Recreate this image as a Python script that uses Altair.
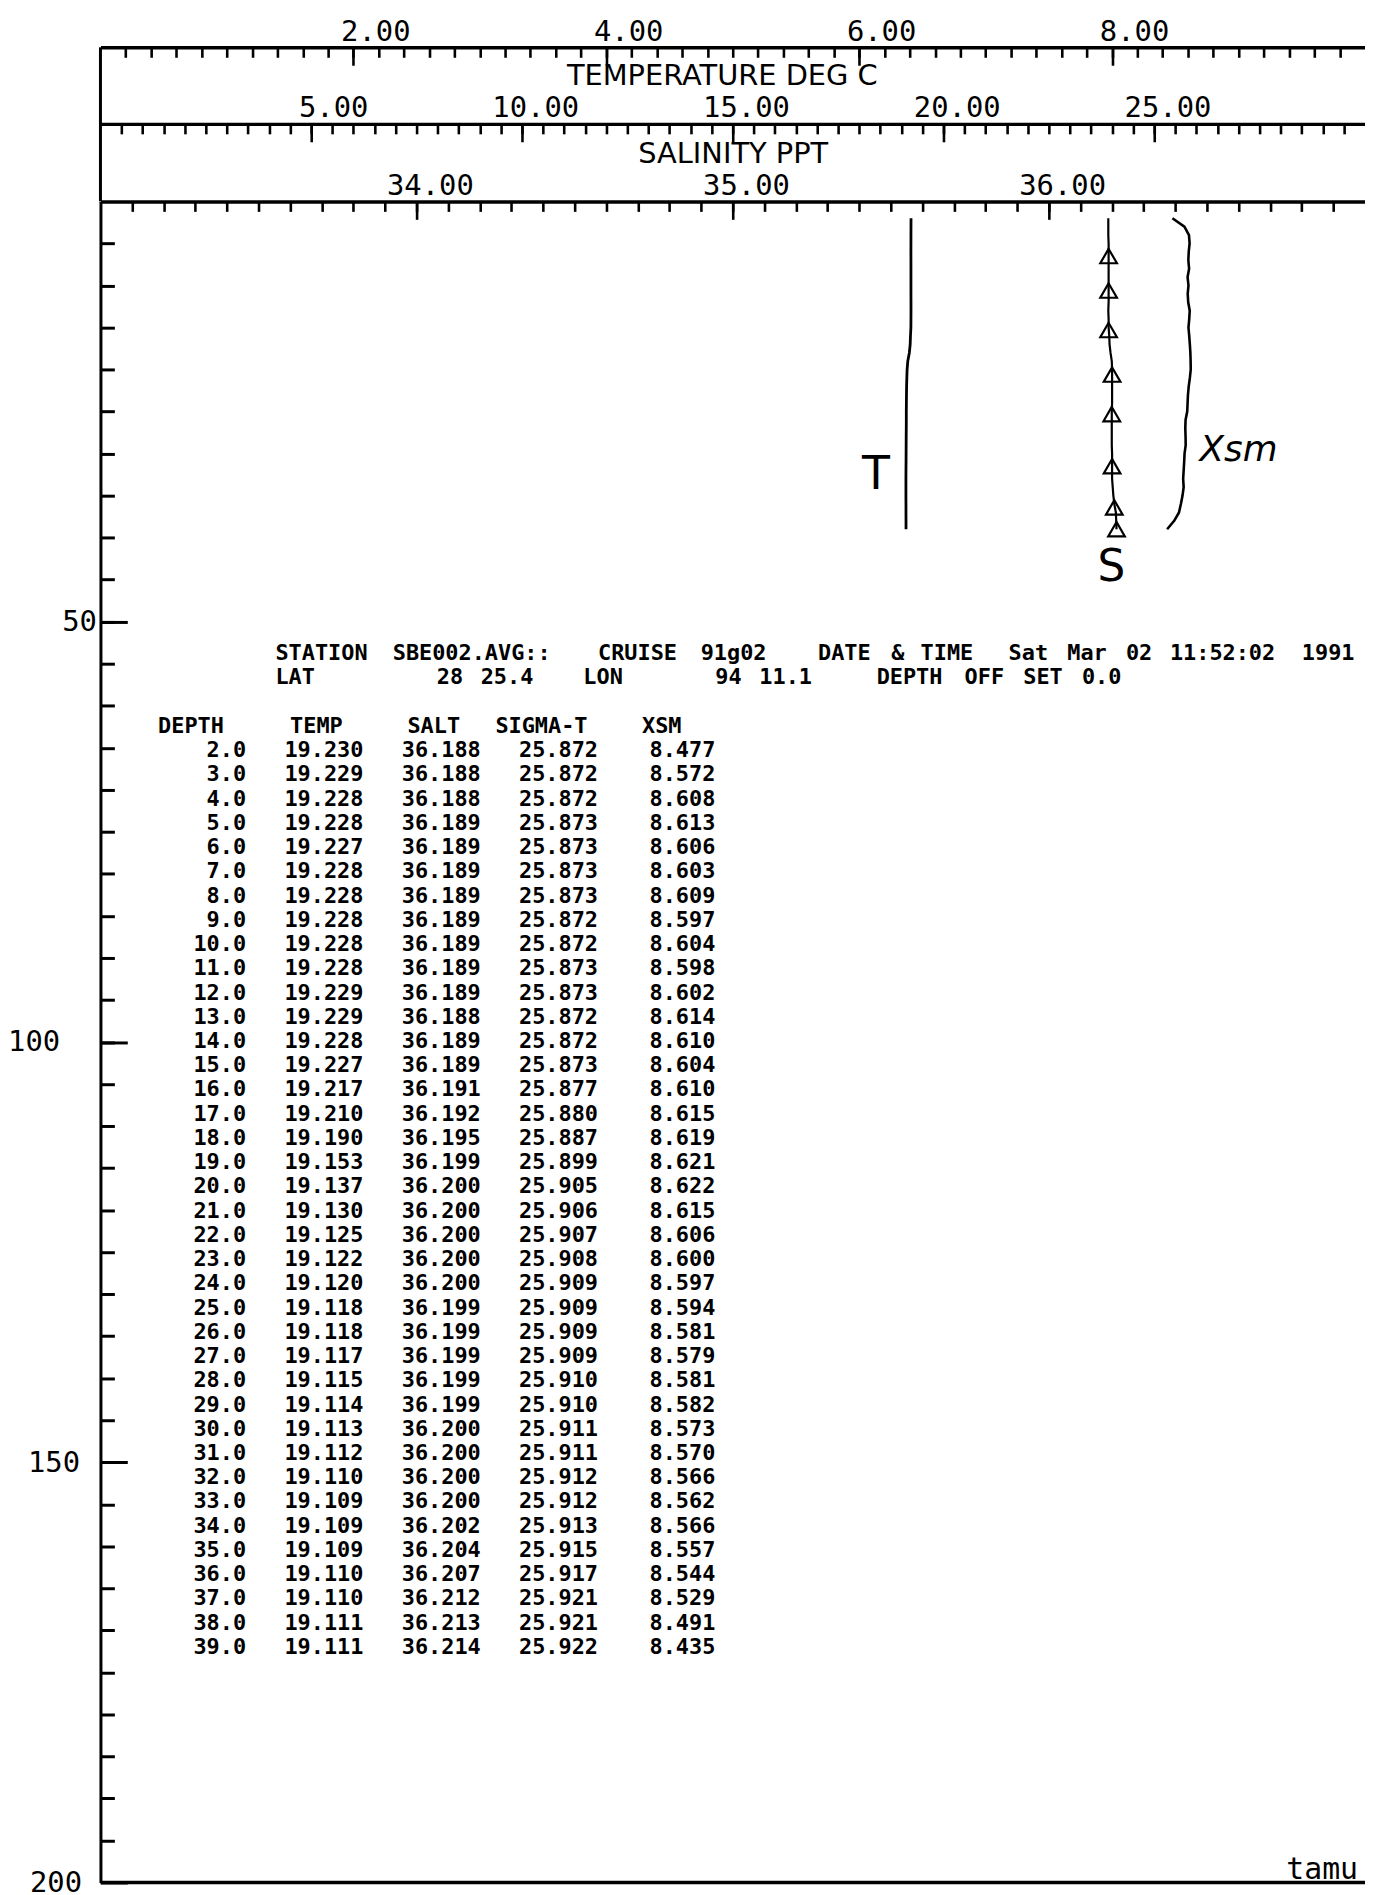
import altair as alt
import pandas as pd

# ---------------- data (read from the listing) ----------------
depth = [2.0, 3.0, 4.0, 5.0, 6.0, 7.0, 8.0, 9.0, 10.0, 11.0, 12.0, 13.0, 14.0,
         15.0, 16.0, 17.0, 18.0, 19.0, 20.0, 21.0, 22.0, 23.0, 24.0, 25.0, 26.0,
         27.0, 28.0, 29.0, 30.0, 31.0, 32.0, 33.0, 34.0, 35.0, 36.0, 37.0, 38.0, 39.0]
temp = [19.230, 19.229, 19.228, 19.228, 19.227, 19.228, 19.228, 19.228, 19.228,
        19.228, 19.229, 19.229, 19.228, 19.227, 19.217, 19.210, 19.190, 19.153,
        19.137, 19.130, 19.125, 19.122, 19.120, 19.118, 19.118, 19.117, 19.115,
        19.114, 19.113, 19.112, 19.110, 19.109, 19.109, 19.109, 19.110, 19.110,
        19.111, 19.111]
salt = [36.188, 36.188, 36.188, 36.189, 36.189, 36.189, 36.189, 36.189, 36.189,
        36.189, 36.189, 36.188, 36.189, 36.189, 36.191, 36.192, 36.195, 36.199,
        36.200, 36.200, 36.200, 36.200, 36.200, 36.199, 36.199, 36.199, 36.199,
        36.199, 36.200, 36.200, 36.200, 36.200, 36.202, 36.204, 36.207, 36.212,
        36.213, 36.214]
sigma_t = [25.872, 25.872, 25.872, 25.873, 25.873, 25.873, 25.873, 25.872, 25.872,
           25.873, 25.873, 25.872, 25.872, 25.873, 25.877, 25.880, 25.887, 25.899,
           25.905, 25.906, 25.907, 25.908, 25.909, 25.909, 25.909, 25.909, 25.910,
           25.910, 25.911, 25.911, 25.912, 25.912, 25.913, 25.915, 25.917, 25.921,
           25.921, 25.922]
xsm = [8.477, 8.572, 8.608, 8.613, 8.606, 8.603, 8.609, 8.597, 8.604, 8.598,
       8.602, 8.614, 8.610, 8.604, 8.610, 8.615, 8.619, 8.621, 8.622, 8.615,
       8.606, 8.600, 8.597, 8.594, 8.581, 8.579, 8.581, 8.582, 8.573, 8.570,
       8.566, 8.562, 8.566, 8.557, 8.544, 8.529, 8.491, 8.435]

# triangle symbols on the salinity trace
marker_depth = [6.5, 10.6, 15.3, 20.6, 25.3, 31.5, 36.4, 39.0]
marker_salt = [36.189, 36.189, 36.189, 36.200, 36.199, 36.200, 36.207, 36.214]

# axis tick values (minor and labelled major ticks)
xsm_minor = [round(0.2 * i, 1) for i in range(1, 50)]
xsm_major = [2, 4, 6, 8]
temp_minor = [round(0.5 * i, 1) for i in range(1, 60)]
temp_major = [5, 10, 15, 20, 25]
salt_minor = [round(33 + 0.1 * i, 1) for i in range(1, 40)]
salt_major = [34, 35, 36]
depth_minor = [5 * i for i in range(1, 40)]
# depth labels and how far each one's right edge sits left of the axis (px)
depth_major = [50, 100, 150, 200]
depth_label_gap = [4, 41, 21, 19]

station_line = "STATION SBE002.AVG::  CRUISE 91g02   DATE & TIME  Sat Mar 02 11:52:02 1991"
lat_line = "LAT        28 25.4   LON      94 11.1    DEPTH OFF SET 0.0"
header_line = "DEPTH    TEMP    SALT  SIGMA-T   XSM"

# ---------------- layout constants ----------------
W, H = 1272, 1691
MONO = "DejaVu Sans Mono"
SANS = "DejaVu Sans"
ROW0, ROWSP = 552, 24.38       # listing line positions (px from plot top)
COL0, COLW = 176, 14.75        # listing character grid (px from plot left)

prof = pd.DataFrame({"depth": depth, "temp": temp, "salt": salt,
                     "sigma": sigma_t, "xsm": xsm})
prof["row"] = list(range(len(depth)))

xs_xsm = alt.Scale(domain=[0, 10], nice=False, zero=False)
xs_temp = alt.Scale(domain=[0, 30], nice=False, zero=False)
xs_sal = alt.Scale(domain=[33, 37], nice=False, zero=False)
ys = alt.Scale(domain=[0, 200], reverse=True, nice=False, zero=False)
line_scale = alt.Scale(domain=[-4, 37], range=[ROW0 - 4 * ROWSP, ROW0 + 37 * ROWSP])
col_scale = alt.Scale(domain=[-8, 74], range=[COL0 - 8 * COLW, COL0 + 74 * COLW])

AX = dict(grid=False, tickColor="black", tickWidth=2.6, domainColor="black",
          domainWidth=3.5, labelFlush=False, labelOverlap=False)


def minor_axis(values, offset):
    return alt.Axis(orient="bottom", offset=offset, values=values, tickSize=10,
                    labels=False, title=None, **AX)


def major_axis(values, offset, title=None, tx=None, ty=None):
    kw = dict(orient="bottom", offset=offset, values=values, tickSize=18,
              domain=False, format=".2f", labelFont=MONO, labelFontSize=29,
              labelColor="black", labelAlign="right", labelBaseline="alphabetic",
              labelOffset=57, labelPadding=-25, **AX)
    if title is None:
        kw["title"] = None
    else:
        kw.update(title=title, titleX=tx, titleY=ty, titleAlign="center",
                  titleBaseline="middle", titleAngle=0, titleFont=SANS,
                  titleFontSize=29, titleFontWeight="normal", titleColor="black")
    return alt.Axis(**kw)


depth_minor_axis = alt.Axis(orient="right", offset=-W, values=depth_minor, tickSize=14,
                            labels=False, title=None, grid=False, tickColor="black",
                            tickWidth=3, domainColor="black", domainWidth=3)


def depth_label_axis(i):
    return alt.Axis(
        orient="right", offset=-W, values=[depth_major[i]], tickSize=27, domain=False,
        title=None, grid=False, tickColor="black", tickWidth=3, format="d",
        labelFont=MONO, labelFontSize=29, labelColor="black", labelAlign="right",
        labelBaseline="middle", labelPadding=-(27 + depth_label_gap[i]),
        labelFlush=False, labelOverlap=False,
    )


# ---------------- XSM ----------------
xsm_line = alt.Chart(prof).mark_line(color="black", strokeWidth=2.6).encode(
    x=alt.X("xsm:Q", scale=xs_xsm, axis=minor_axis(xsm_minor, -(H + 155))),
    y=alt.Y("depth:Q", scale=ys, axis=depth_minor_axis),
    order="depth:Q",
)
xsm_note = alt.Chart(pd.DataFrame({"xsm": [9.0], "depth": [29.6], "t": ["Xsm"]})).mark_text(
    font=SANS, fontSize=36, fontStyle="italic", align="center",
    baseline="middle", color="black").encode(
    x=alt.X("xsm:Q", scale=xs_xsm, axis=major_axis(xsm_major, -(H + 155))),
    y=alt.Y("depth:Q", scale=ys, axis=depth_label_axis(3)),
    text="t:N",
)

# ---------------- temperature ----------------
temp_line = alt.Chart(prof).mark_line(color="black", strokeWidth=2.8).encode(
    x=alt.X("temp:Q", scale=xs_temp, axis=minor_axis(temp_minor, -(H + 78))),
    y=alt.Y("depth:Q", scale=ys, axis=depth_label_axis(0)),
    order="depth:Q",
)
temp_note = alt.Chart(pd.DataFrame({"temp": [18.4], "depth": [32.6], "t": ["T"]})).mark_text(
    font=SANS, fontSize=46, align="center", baseline="middle", color="black").encode(
    x=alt.X("temp:Q", scale=xs_temp,
            axis=major_axis(temp_major, -(H + 78), "TEMPERATURE DEG C", 625, -49)),
    y=alt.Y("depth:Q", scale=ys, axis=None),
    text="t:N",
)

# ---------------- salinity ----------------
sal_line = alt.Chart(prof).mark_line(color="black", strokeWidth=2.2).encode(
    x=alt.X("salt:Q", scale=xs_sal, axis=minor_axis(salt_minor, -H)),
    y=alt.Y("depth:Q", scale=ys, axis=depth_label_axis(1)),
    order="depth:Q",
)
sal_note = alt.Chart(pd.DataFrame({"salt": [36.198], "depth": [43.6], "t": ["S"]})).mark_text(
    font=SANS, fontSize=44, align="center", baseline="middle", color="black").encode(
    x=alt.X("salt:Q", scale=xs_sal,
            axis=major_axis(salt_major, -H, "SALINITY PPT", 636, -48)),
    y=alt.Y("depth:Q", scale=ys, axis=None),
    text="t:N",
)
sal_marks = alt.Chart(pd.DataFrame({"salt": marker_salt, "depth": marker_depth})).mark_point(
    shape="triangle-up", filled=False, size=280, strokeWidth=2.2,
    color="black", opacity=1).encode(
    x=alt.X("salt:Q", scale=xs_sal, axis=None),
    y=alt.Y("depth:Q", scale=ys, axis=depth_label_axis(2)),
)

# ---------------- listing ----------------
def words(text, line, shift=0):
    out, i = [], 0
    for w in text.split(" "):
        if w:
            out.append({"line": line, "col": i + shift, "t": w})
        i += len(w) + 1
    return out


pieces = pd.DataFrame(words(station_line, -4) + words(lat_line, -3) + words(header_line, -1, -8))
txt = dict(font=MONO, fontSize=22, fontWeight="bold", color="black", baseline="middle")
info_layer = alt.Chart(pieces).mark_text(align="left", **txt).encode(
    x=alt.X("col:Q", scale=col_scale, axis=None),
    y=alt.Y("line:Q", scale=line_scale, axis=None),
    text="t:N",
)

cols = [("depth", ".1f", -2), ("temp", ".3f", 6), ("salt", ".3f", 14),
        ("sigma", ".3f", 22), ("xsm", ".3f", 30)]
col_layers = [
    alt.Chart(prof).transform_calculate(colend=str(cend)).mark_text(align="right", **txt).encode(
        x=alt.X("colend:Q", scale=col_scale, axis=None),
        y=alt.Y("row:Q", scale=line_scale, axis=None),
        text=alt.Text(f"{name}:Q", format=fmt),
    )
    for name, fmt, cend in cols
]

# ---------------- frame pieces ----------------
one = pd.DataFrame({"k": [0]})
left_top = alt.Chart(one).mark_rule(color="black", strokeWidth=3).encode(
    x=alt.value(0), y=alt.value(-155), y2=alt.value(0))
bottom = alt.Chart(one).mark_rule(color="black", strokeWidth=3.5).encode(
    x=alt.value(0), x2=alt.value(W), y=alt.value(H))
tamu = alt.Chart(pd.DataFrame({"t": ["tamu"]})).mark_text(
    font=MONO, fontSize=30, align="right", baseline="alphabetic", color="black").encode(
    x=alt.value(W - 7), y=alt.value(H - 4), text="t:N")

chart = alt.layer(
    xsm_line, xsm_note, temp_line, temp_note, sal_line, sal_note, sal_marks,
    info_layer, *col_layers, left_top, bottom, tamu,
).resolve_scale(
    x="independent", y="independent"
).properties(
    width=W, height=H,
    padding={"left": 93, "top": 189, "right": 0, "bottom": 7},
    autosize=alt.AutoSizeParams(type="none"),
).configure(background="white", view=alt.ViewConfig(stroke=None))

chart.save("out.html", embed_options={"renderer": "svg", "actions": False})
